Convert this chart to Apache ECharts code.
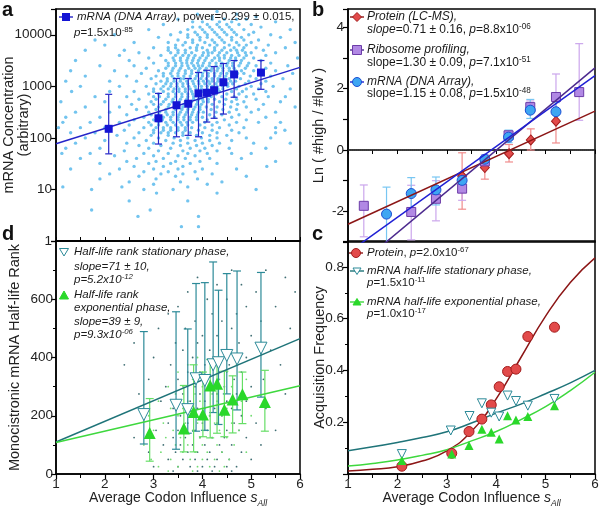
<!DOCTYPE html>
<html lang="en">
<head>
<meta charset="utf-8">
<title>Codon influence panels</title>
<script src="https://cdn.jsdelivr.net/npm/echarts@6.0.0/dist/echarts.min.js"></script>
</head>
<body style="margin:0;background:#fff">
<div id="main" style="width:600px;height:510px;"></div>
<script type="text/javascript">
var FONT = 'Liberation Sans, Arial, sans-serif';

// ---- panel a: mRNA concentration (log) vs average codon influence
var aBinX    = [2.08, 3.10, 3.47, 3.71, 3.92, 4.09, 4.24, 4.43, 4.65, 5.20];
var aBinMean = [150, 240, 430, 460, 730, 750, 840, 1200, 1700, 1850];
var aBinLow  = [49, 76, 105, 112, 105, 203, 240, 290, 615, 875];
var aBinHigh = [700, 730, 1420, 1420, 1860, 2050, 2420, 2770, 3170, 3170];
var aFitX = [1, 6];
var aFitY = [77, 2330];
// single genes, one row per concentration level: [concentration, [s_All, ...]]
var aGenes = [
  [28200, [4.3]], [25100, [3.9, 4.7]], [22400, [4.2, 5.1]], [20000, [3.5, 4.2, 4.45, 4.7, 4.9]],
  [17800, [3.8, 4.0, 4.35, 4.6, 5.5]], [15800, [3.2, 4.1, 4.3, 4.5, 4.75, 5.0]],
  [14100, [3.8, 3.95, 4.15, 4.35, 4.55, 5.2]],
  [12600, [2.9, 3.7, 4.0, 4.2, 4.4, 4.6, 4.85, 5.8]], [11200, [3.55, 3.85, 4.05, 4.25, 4.45, 4.65, 5.05]],
  [10000, [2.2, 3.35, 3.7, 3.9, 4.1, 4.3, 4.5, 4.7, 4.95, 5.4]],
  [8910, [3.1, 3.7, 3.95, 4.1, 4.35, 4.6, 4.8, 5.6]],
  [7940, [1.8, 3.5, 3.8, 3.95, 4.2, 4.4, 4.6, 4.85, 5.15]],
  [7080, [2.6, 3.3, 3.65, 3.8, 4.05, 4.25, 4.45, 4.7, 5.0, 5.9]],
  [6310, [2.0, 3.45, 3.6, 3.9, 4.15, 4.3, 4.55, 4.75, 4.9, 5.35]],
  [5620, [3.0, 3.3, 3.45, 3.75, 3.88, 4.0, 4.25, 4.45, 4.65, 4.85, 5.1, 5.7]],
  [5010, [1.6, 2.4, 3.3, 3.5, 3.65, 3.88, 4.1, 4.25, 4.4, 4.58, 4.7, 4.82, 5.25]],
  [4470, [2.7, 3.35, 3.5, 3.65, 3.78, 4.02, 4.12, 4.2, 4.35, 4.5, 4.72, 4.88, 5.0, 5.5]],
  [3980, [2.3, 3.15, 3.45, 3.6, 3.72, 3.85, 4.0, 4.12, 4.32, 4.45, 4.6, 4.75, 4.9, 5.3]],
  [3550, [2.9, 3.4, 3.55, 3.7, 3.82, 3.95, 4.08, 4.25, 4.35, 4.45, 4.58, 4.68, 4.85, 5.05, 5.95]],
  [3160, [1.4, 2.5, 3.25, 3.42, 3.55, 3.68, 3.8, 3.92, 4.05, 4.2, 4.35, 4.55, 4.68, 4.8, 5.2]],
  [2820, [3.0, 3.3, 3.45, 3.58, 3.68, 3.78, 3.9, 4.02, 4.15, 4.28, 4.4, 4.52, 4.62, 4.78, 4.95, 5.4]],
  [2510, [1.9, 2.6, 3.3, 3.45, 3.58, 3.7, 3.82, 3.92, 4.0, 4.14, 4.28, 4.38, 4.5, 4.62, 4.75, 4.92, 5.1, 5.75]],
  [2240, [2.85, 3.25, 3.4, 3.55, 3.72, 3.85, 3.95, 4.08, 4.2, 4.32, 4.42, 4.55, 4.65, 4.88, 5.3]],
  [2000, [1.3, 2.2, 3.1, 3.38, 3.52, 3.65, 3.78, 3.92, 4.05, 4.18, 4.3, 4.42, 4.55, 4.68, 4.8, 5.05, 5.5]],
  [1780, [2.75, 3.2, 3.35, 3.5, 3.65, 3.78, 3.9, 4.0, 4.12, 4.25, 4.38, 4.5, 4.6, 4.72, 4.85, 5.2, 5.85]],
  [1580, [1.6, 2.45, 3.05, 3.2, 3.38, 3.5, 3.62, 3.75, 3.88, 4.0, 4.12, 4.25, 4.36, 4.48, 4.6, 4.7, 4.98, 5.4]],
  [1410, [2.95, 3.28, 3.42, 3.55, 3.62, 3.75, 3.85, 3.97, 4.08, 4.2, 4.32, 4.45, 4.55, 4.78, 5.1, 5.65]],
  [1260, [1.2, 2.1, 2.65, 3.15, 3.28, 3.42, 3.55, 3.68, 3.8, 3.92, 4.02, 4.12, 4.2, 4.32, 4.45, 4.58, 4.68, 4.95, 5.3]],
  [1120, [3.05, 3.25, 3.36, 3.48, 3.6, 3.7, 3.82, 3.93, 4.05, 4.15, 4.28, 4.4, 4.52, 4.62, 4.88, 5.2]],
  [1000, [1.5, 2.3, 2.85, 3.2, 3.35, 3.48, 3.6, 3.72, 3.85, 3.98, 4.1, 4.2, 4.3, 4.42, 4.52, 4.75, 5.0, 5.45]],
  [891, [3.0, 3.15, 3.3, 3.42, 3.52, 3.65, 3.75, 3.87, 3.98, 4.1, 4.22, 4.32, 4.42, 4.7, 4.9, 5.15, 5.8]],
  [794, [1.32, 2.1, 2.6, 3.0, 3.2, 3.4, 3.52, 3.65, 3.78, 3.9, 4.02, 4.12, 4.25, 4.35, 4.6, 4.82, 5.3]],
  [708, [2.9, 3.1, 3.3, 3.45, 3.58, 3.7, 3.8, 3.92, 4.05, 4.15, 4.28, 4.5, 4.75, 5.05]],
  [631, [1.8, 2.45, 3.0, 3.12, 3.3, 3.45, 3.58, 3.7, 3.82, 3.95, 4.08, 4.18, 4.4, 4.65, 4.9, 5.35, 5.7]],
  [562, [2.7, 3.05, 3.25, 3.4, 3.55, 3.68, 3.82, 3.92, 4.0, 4.12, 4.25, 4.48, 4.7, 5.1]],
  [501, [1.1, 2.0, 2.95, 3.2, 3.38, 3.52, 3.65, 3.78, 3.9, 4.02, 4.12, 4.35, 4.6, 4.85, 5.6]],
  [447, [2.55, 3.0, 3.15, 3.32, 3.5, 3.62, 3.75, 3.88, 3.98, 4.2, 4.45, 4.72, 5.25]],
  [398, [1.6, 2.3, 2.85, 3.1, 3.3, 3.45, 3.6, 3.72, 3.85, 3.95, 4.08, 4.3, 4.58, 4.9, 5.9]],
  [355, [2.65, 3.05, 3.25, 3.45, 3.58, 3.7, 3.82, 3.95, 4.18, 4.42, 4.7, 5.15]],
  [316, [1.4, 2.1, 2.9, 3.12, 3.25, 3.4, 3.55, 3.68, 3.8, 3.92, 4.02, 4.28, 4.55, 5.0, 5.5]],
  [282, [2.45, 2.95, 3.1, 3.28, 3.4, 3.52, 3.65, 3.78, 3.9, 4.15, 4.4, 4.75]],
  [251, [1.2, 1.9, 2.8, 3.05, 3.2, 3.35, 3.5, 3.62, 3.75, 3.88, 4.0, 4.25, 4.6, 5.3]],
  [224, [2.6, 3.0, 3.18, 3.35, 3.5, 3.62, 3.75, 3.88, 4.1, 4.45, 4.9]],
  [200, [1.14, 1.7, 2.3, 2.9, 3.1, 3.25, 3.4, 3.55, 3.68, 3.8, 4.05, 4.3, 4.7, 5.15, 5.6]],
  [178, [2.5, 2.95, 3.1, 3.28, 3.45, 3.58, 3.7, 3.95, 4.2, 4.55]],
  [158, [1.05, 1.5, 2.0, 2.8, 3.05, 3.2, 3.35, 3.5, 3.65, 3.78, 4.05, 4.35, 4.85, 5.5]],
  [141, [2.4, 3.0, 3.2, 3.35, 3.5, 3.65, 3.92, 4.2, 4.6, 5.69]],
  [126, [1.3, 1.8, 2.7, 3.0, 3.15, 3.3, 3.45, 3.6, 3.75, 4.0, 4.3, 4.75, 5.5]],
  [112, [2.25, 2.95, 3.3, 3.6, 3.88, 4.15, 4.5]],
  [100, [1.6, 2.6, 3.1, 3.42, 3.7, 3.98, 4.3, 4.9, 5.4]],
  [89, [2.0, 2.85, 3.25, 3.55, 3.85, 4.15, 4.6]],
  [79, [1.4, 2.45, 3.0, 3.4, 3.7, 4.0, 4.35, 5.05, 5.8]],
  [71, [2.7, 3.15, 3.55, 3.88, 4.2]],
  [63, [1.2, 1.9, 2.9, 3.35, 3.75, 4.05, 4.55, 5.3]],
  [56, [2.4, 3.1, 3.6, 3.95, 4.3]],
  [50, [1.12, 1.7, 2.8, 3.3, 3.7, 4.1, 4.6, 5.0]],
  [45, [2.2, 3.0, 3.5, 3.85]],
  [40, [1.5, 2.65, 3.2, 3.65, 4.15, 4.8]],
  [35, [2.45, 3.05, 3.45, 3.95, 5.5]],
  [32, [1.9, 2.9, 3.35, 3.75, 4.3]],
  [28, [2.6, 3.2, 3.6, 5.32]],
  [25, [1.3, 2.3, 3.0, 3.5, 4.0, 4.7]],
  [22, [2.8, 3.3, 3.85]], [20, [2.1, 3.15, 3.6, 4.2]], [18, [2.7, 3.45, 4.9]],
  [16, [1.9, 3.05, 3.9]], [14, [2.5, 3.55, 4.4]], [12.6, [3.0, 4.1]],
  [11.2, [1.14, 2.35, 3.7]], [10, [1.73, 2.8, 3.4, 5.1]], [8.5, [3.06, 4.3]],
  [6, [2.5, 3.7]], [4, [1.73, 2.93]], [3, [2.68, 3.92]], [1.9, [3.57, 3.92]]
];

// ---- panel b: Ln(#high/#low) per bin
var bProtX  = [3.31, 3.77, 4.26, 4.70, 5.21];
var bProtY  = [-0.85, -0.57, -0.12, 0.33, 0.94];
var bProtLo = [-1.93, -0.95, -0.39, 0.00, 0.23];
var bProtHi = [-0.09, -0.25, 0.18, 0.69, 1.55];
var bRiboX  = [1.32, 2.28, 2.78, 3.31, 3.77, 4.25, 4.69, 5.21, 5.68];
var bRiboY  = [-1.82, -2.02, -1.59, -1.26, -0.37, 0.48, 1.40, 1.73, 1.89];
var bRiboLo = [-2.83, -2.93, -2.31, -1.64, -0.60, 0.33, 1.20, 1.27, 0.97];
var bRiboHi = [-1.14, -1.15, -1.00, -0.95, -0.15, 0.63, 1.60, 2.48, 3.47];
var bMrnaX  = [1.78, 2.28, 2.78, 3.31, 3.77, 4.25, 4.69, 5.21];
var bMrnaY  = [-2.09, -1.42, -1.30, -0.99, -0.30, 0.42, 1.30, 1.25];
var bMrnaLo = [-3.20, -1.95, -1.79, -1.10, -0.42, 0.24, 1.03, 0.95];
var bMrnaHi = [-1.21, -0.90, -0.88, -0.88, -0.18, 0.65, 1.65, 1.55];
var bFitX = [1, 6];
var bProtFit = [-2.42, 1.27];
var bRiboFit = [-4.04, 2.68];
var bMrnaFit = [-3.35, 2.43];
var bZeroY = [0, 0];

// ---- panel c: acquisition frequency
var cProtX = [2.09, 3.10, 3.45, 3.71, 3.90, 4.06, 4.23, 4.40, 4.64, 5.18];
var cProt  = [0.030, 0.080, 0.164, 0.212, 0.267, 0.337, 0.396, 0.405, 0.531, 0.567];
var cStatX = [2.09, 3.08, 3.46, 3.71, 3.90, 4.06, 4.23, 4.40, 4.64, 5.18];
var cStat  = [0.077, 0.168, 0.224, 0.273, 0.237, 0.222, 0.303, 0.282, 0.264, 0.290];
var cExp   = [0.052, 0.077, 0.110, 0.173, 0.161, 0.135, 0.225, 0.209, 0.222, 0.264];
var cCurveX    = [1, 1.5, 2, 2.5, 3, 3.5, 4, 4.5, 5, 5.5, 6];
var cProtCurve = [0.012, 0.018, 0.028, 0.050, 0.089, 0.165, 0.29, 0.45, 0.61, 0.74, 0.835];
var cStatCurve = [0.090, 0.105, 0.122, 0.141, 0.163, 0.197, 0.235, 0.270, 0.310, 0.352, 0.400];
var cExpCurve  = [0.031, 0.041, 0.054, 0.072, 0.094, 0.128, 0.164, 0.210, 0.260, 0.322, 0.393];

// ---- panel d: monocistronic mRNA half-life rank
var dStatX  = [2.80, 3.46, 3.70, 3.87, 4.05, 4.22, 4.33, 4.50, 4.71, 5.20];
var dStatY  = [204, 236, 221, 327, 321, 375, 382, 407, 395, 432];
var dStatLo = [103, 85, 140, 147, 150, 211, 170, 275, 220, 264];
var dStatHi = [489, 557, 498, 654, 657, 728, 631, 688, 697, 692];
var dExpX   = [2.92, 3.62, 3.82, 4.01, 4.16, 4.30, 4.45, 4.62, 4.82, 5.28];
var dExpY   = [141, 156, 213, 204, 304, 310, 221, 256, 274, 247];
var dExpLo  = [44, 76, 76, 128, 124, 140, 128, 141, 173, 147];
var dExpHi  = [259, 304, 375, 350, 393, 390, 353, 337, 350, 356];
var dFitX = [1, 6];
var dStatFit = [110, 465];
var dExpFit = [108, 303];
// single genes: [rank, [s_All, ...]]
var dStatGenes = [
  [700, [4.6, 5.3]], [675, [3.9, 5.7]], [650, [4.3, 4.8]], [625, [3.7, 5.1, 5.9]],
  [600, [4.1, 4.5]], [575, [3.5, 4.9, 5.5]], [550, [3.3, 4.2, 4.7]], [525, [3.85, 4.4, 5.2]],
  [500, [3.1, 3.65, 4.6, 5.8]], [475, [4.0, 4.3, 5.0]], [450, [2.6, 3.45, 3.9, 4.75]],
  [425, [3.6, 4.15, 4.45, 5.4]], [400, [3.0, 3.8, 4.25, 4.9]], [375, [2.4, 3.35, 4.05, 4.55, 5.6]],
  [350, [3.7, 3.95, 4.35, 4.8]], [325, [2.9, 3.5, 4.1, 4.65, 5.25]], [300, [3.25, 3.85, 4.2, 4.45, 5.0]],
  [275, [2.7, 3.6, 3.95, 4.3, 4.7, 5.7]], [250, [3.15, 3.75, 4.05, 4.5, 4.9]],
  [225, [3.4, 3.9, 4.25, 4.6, 5.3]], [200, [2.8, 3.55, 3.8, 4.15, 4.4, 4.8]],
  [175, [3.3, 3.7, 4.0, 4.3, 4.65, 5.1]], [150, [3.05, 3.5, 3.85, 4.1, 4.5, 4.75, 5.5]],
  [125, [2.6, 3.4, 3.65, 3.95, 4.2, 4.45, 4.9]], [100, [3.2, 3.55, 3.8, 4.05, 4.35, 4.6, 5.2]],
  [75, [2.9, 3.45, 3.7, 3.9, 4.15, 4.4, 4.8]], [50, [3.3, 3.6, 3.85, 4.1, 4.3, 4.55, 5.0]],
  [25, [3.0, 3.5, 3.75, 4.0, 4.25, 4.5, 4.7]], [10, [3.4, 3.9, 4.2, 4.6]]
];
var dExpGenes = [
  [400, [3.9, 4.4]], [375, [3.7, 4.2, 4.7]], [350, [3.5, 4.0, 4.5]], [325, [3.8, 4.1, 4.35, 4.9]],
  [300, [3.3, 3.6, 4.0, 4.6]], [275, [3.45, 3.85, 4.2, 4.45]], [250, [3.1, 3.7, 3.95, 4.3, 4.8]],
  [225, [3.35, 3.6, 4.05, 4.5]], [200, [2.9, 3.5, 3.75, 4.15, 4.4, 5.0]],
  [175, [3.2, 3.65, 3.9, 4.25, 4.6]], [150, [3.0, 3.4, 3.8, 4.05, 4.35, 4.75]],
  [125, [3.25, 3.55, 3.95, 4.2, 4.5]], [100, [2.8, 3.45, 3.7, 4.0, 4.3, 4.65]],
  [75, [3.15, 3.6, 3.85, 4.1, 4.4, 4.9]], [50, [2.95, 3.35, 3.75, 4.0, 4.25, 4.55]],
  [25, [3.1, 3.5, 3.9, 4.15, 4.45]], [10, [3.3, 3.8, 4.35]]
];

// colours
var A_CLOUD = '#72c4ef', A_PT = '#1414d4', A_LINE = '#2424c8';
var B_PROT = '#e24a4a', B_PROT_E = '#a31c1c', B_PROT_BAR = '#f08c8c', B_PROT_LINE = '#8c1616';
var B_RIBO = '#b188e4', B_RIBO_E = '#6c3ca8', B_RIBO_BAR = '#cba6ec', B_RIBO_LINE = '#4c2a8e';
var B_MRNA = '#3ea6f2', B_MRNA_E = '#1c4ed4', B_MRNA_BAR = '#78c6f2', B_MRNA_LINE = '#2020d4';
var TEAL = '#2c8a98', TEAL_LINE = '#1f7479', GREEN = '#2ad82a', GREEN_BAR = '#66de66', GREEN_LINE = '#3ed83e';

function pts(xs, ys) { return xs.map(function (x, i) { return [x, ys[i]]; }); }
function bars(xs, lo, hi) { return xs.map(function (x, i) { return [x, lo[i], hi[i]]; }); }
function rows(list) {
  var out = [];
  list.forEach(function (r) { r[1].forEach(function (x) { out.push([x, r[0]]); }); });
  return out;
}

function errSeries(ax, data, color, cap, z) {
  return {
    type: 'custom', xAxisIndex: ax, yAxisIndex: ax, data: data, z: z, clip: true, silent: true,
    encode: { x: 0, y: [1, 2] },
    renderItem: function (params, api) {
      var x = api.value(0);
      var lo = api.coord([x, api.value(1)]);
      var hi = api.coord([x, api.value(2)]);
      var h = cap / 2;
      var st = { stroke: color, lineWidth: 1.2 };
      return { type: 'group', children: [
        { type: 'line', shape: { x1: lo[0], y1: lo[1], x2: hi[0], y2: hi[1] }, style: st },
        { type: 'line', shape: { x1: lo[0] - h, y1: lo[1], x2: lo[0] + h, y2: lo[1] }, style: st },
        { type: 'line', shape: { x1: hi[0] - h, y1: hi[1], x2: hi[0] + h, y2: hi[1] }, style: st }
      ] };
    }
  };
}
function lineSeries(ax, data, color, width, z, extra) {
  var s = { type: 'line', xAxisIndex: ax, yAxisIndex: ax, data: data, showSymbol: false, silent: true,
    z: z, lineStyle: { color: color, width: width } };
  return Object.assign(s, extra || {});
}
function dotSeries(ax, data, symbol, size, fill, border, z, extra) {
  var s = { type: 'scatter', xAxisIndex: ax, yAxisIndex: ax, data: data, symbol: symbol, symbolSize: size,
    z: z, silent: true, itemStyle: { color: fill, borderColor: border, borderWidth: border ? 1 : 0, opacity: 1 } };
  return Object.assign(s, extra || {});
}

var LABEL = { fontSize: 13.5, color: '#222', fontFamily: FONT };
var AXLINE = { show: true, lineStyle: { color: '#000', width: 1.5 } };
var TICK = { show: true, length: 5, lineStyle: { color: '#000', width: 1.2 } };
var NAME_Y = { fontSize: 14.5, color: '#222', fontFamily: FONT, lineHeight: 15 };
var NAME_X = {
  fontSize: 14, color: '#222', fontFamily: FONT, lineHeight: 20,
  rich: {
    s: { fontSize: 14, fontStyle: 'italic', color: '#222', fontFamily: FONT, lineHeight: 20 },
    sub: { fontSize: 8.5, fontStyle: 'italic', color: '#222', fontFamily: FONT, lineHeight: 9, verticalAlign: 'bottom' }
  }
};
var XNAME = 'Average Codon Influence {s|s}{sub|All}';

function gridBox(l, t, w, h) {
  return { left: l, top: t, width: w, height: h, show: true, borderColor: '#000', borderWidth: 1.5,
    backgroundColor: 'transparent', containLabel: false, outerBoundsMode: 'none' };
}

// legend-style notes drawn as graphic text
function note(x, y, text, size, italic) {
  var fs = italic ? 'italic' : 'normal';
  return { type: 'text', x: x, y: y, z: 50, silent: true, style: {
    text: text, fontSize: size, fontFamily: FONT, fontStyle: fs, fill: '#1a1a1a',
    verticalAlign: 'middle', lineHeight: 14,
    rich: {
      i: { fontSize: size, fontFamily: FONT, fontStyle: 'italic', lineHeight: 14 },
      s: { fontSize: size * 0.68, fontFamily: FONT, fontStyle: fs, lineHeight: size * 0.68, verticalAlign: 'top' }
    }
  } };
}
function letter(x, y, t) {
  return { type: 'text', x: x, y: y, z: 50, silent: true,
    style: { text: t, fontSize: 20, fontWeight: 'bold', fontFamily: FONT, fill: '#111', verticalAlign: 'middle' } };
}
function keyLine(x, y, color) {
  return { type: 'line', z: 50, silent: true, shape: { x1: x - 7, y1: y, x2: x + 7, y2: y }, style: { stroke: color, lineWidth: 1.4 } };
}
function keyPoly(points, fill, stroke) {
  return { type: 'polygon', z: 51, silent: true, shape: { points: points }, style: { fill: fill, stroke: stroke, lineWidth: 1 } };
}

var graphic = [
  letter(2, 10, 'a'), letter(312, 10, 'b'), letter(2, 234, 'd'), letter(312, 234, 'c'),
  // a
  keyLine(66, 17, A_LINE),
  { type: 'rect', z: 51, silent: true, shape: { x: 62, y: 13, width: 8, height: 8 }, style: { fill: A_PT } },
  note(77, 17, '{i|mRNA (DNA Array)}, power=0.299 ± 0.015,', 11.5),
  note(74, 33, '{i|p}=1.5x10{s|-85}', 11.5),
  // b
  keyLine(357, 17, B_PROT_LINE),
  keyPoly([[357, 12.5], [361.5, 17], [357, 21.5], [352.5, 17]], B_PROT, B_PROT_E),
  note(367, 17, '{i|Protein (LC-MS),}', 12),
  note(367, 30, '{i|slope}=0.71 ± 0.16, {i|p}=8.8x10{s|-06}', 12),
  keyLine(357, 50, B_RIBO_LINE),
  { type: 'rect', z: 51, silent: true, shape: { x: 352.5, y: 45.5, width: 9, height: 9 }, style: { fill: B_RIBO, stroke: B_RIBO_E, lineWidth: 1 } },
  note(367, 50, '{i|Ribosome profiling,}', 12),
  note(367, 63, 'slope=1.30 ± 0.09, {i|p}=7.1x10{s|-51}', 12),
  keyLine(357, 82, B_MRNA_LINE),
  { type: 'circle', z: 51, silent: true, shape: { cx: 357, cy: 82, r: 4.5 }, style: { fill: B_MRNA, stroke: B_MRNA_E, lineWidth: 1 } },
  note(367, 82, '{i|mRNA (DNA Array),}', 12),
  note(367, 94, 'slope=1.15 ± 0.08, {i|p}=1.5x10{s|-48}', 12),
  // c
  keyLine(356, 253, B_PROT_LINE),
  { type: 'circle', z: 51, silent: true, shape: { cx: 356, cy: 253, r: 4.5 }, style: { fill: B_PROT, stroke: B_PROT_E, lineWidth: 1 } },
  note(367, 253, '{i|Protein}, {i|p}=2.0x10{s|-67}', 11.5),
  keyLine(357, 271, TEAL_LINE),
  keyPoly([[353, 268], [361, 268], [357, 274.5]], '#fff', TEAL),
  note(367, 271, '{i|mRNA half-life stationary phase,}', 11.5),
  note(367, 283, '{i|p}=1.5x10{s|-11}', 11.5),
  keyLine(357, 302, GREEN_LINE),
  keyPoly([[353, 305], [361, 305], [357, 298.5]], GREEN, GREEN),
  note(367, 302, '{i|mRNA half-life exponential phase,}', 11.5),
  note(367, 314, '{i|p}=1.0x10{s|-17}', 11.5),
  // d
  keyPoly([[59.5, 248.5], [68.5, 248.5], [64, 256]], '#fff', TEAL),
  note(74, 252, 'Half-life rank stationary phase,', 11.5, true),
  note(74, 267, 'slope=71 ± 10,', 11.5, true),
  note(74, 280, 'p=5.2x10{s|-12}', 11.5, true),
  keyPoly([[59.5, 299], [68.5, 299], [64, 291]], GREEN, GREEN),
  note(74, 295, 'Half-life rank', 11.5, true),
  note(74, 308, 'exponential phase,', 11.5, true),
  note(74, 322, 'slope=39 ± 9,', 11.5, true),
  note(74, 335, 'p=9.3x10{s|-06}', 11.5, true)
];

var option = {
  animation: false,
  backgroundColor: '#fff',
  textStyle: { fontFamily: FONT },
  grid: [gridBox(56, 9, 244, 232), gridBox(348, 9, 247, 233), gridBox(348, 241, 247, 233), gridBox(56, 241, 244, 233)],
  xAxis: [
    { gridIndex: 0, type: 'value', min: 1, max: 6, interval: 0.5, axisLine: AXLINE,
      axisTick: { show: true, inside: true, length: 4, lineStyle: { color: '#000' } }, axisLabel: { show: false }, splitLine: { show: false } },
    { gridIndex: 1, type: 'value', min: 1, max: 6, interval: 0.5, axisLine: AXLINE,
      axisTick: { show: true, length: 4, lineStyle: { color: '#000' } }, axisLabel: { show: false }, splitLine: { show: false } },
    { gridIndex: 2, type: 'value', min: 1, max: 6, interval: 1, axisLine: AXLINE, axisTick: TICK,
      minorTick: { show: true, splitNumber: 2, length: 4, lineStyle: { color: '#000' } },
      axisLabel: Object.assign({ margin: 3 }, LABEL), splitLine: { show: false },
      name: XNAME, nameLocation: 'middle', nameGap: 14, nameMoveOverlap: false, nameTextStyle: NAME_X },
    { gridIndex: 3, type: 'value', min: 1, max: 6, interval: 1, axisLine: AXLINE, axisTick: TICK,
      minorTick: { show: true, splitNumber: 2, length: 4, lineStyle: { color: '#000' } },
      axisLabel: Object.assign({ margin: 3 }, LABEL), splitLine: { show: false },
      name: XNAME, nameLocation: 'middle', nameGap: 14, nameMoveOverlap: false, nameTextStyle: NAME_X }
  ],
  yAxis: [
    { gridIndex: 0, type: 'log', logBase: 10, min: 1, max: 31623, axisLine: AXLINE, axisTick: TICK, splitLine: { show: false },
      axisLabel: Object.assign({ margin: 4, formatter: function (v) {
        var l = Math.log(v) / Math.LN10;
        return Math.abs(l - Math.round(l)) < 1e-6 ? String(Math.round(v)) : '';
      } }, LABEL),
      name: 'mRNA Concentration\n(arbitrary)', nameLocation: 'middle', nameGap: 25, nameMoveOverlap: false, nameTextStyle: NAME_Y },
    { gridIndex: 1, type: 'value', min: -3, max: 4.6, interval: 1, axisLine: AXLINE, axisTick: TICK, splitLine: { show: false },
      axisLabel: Object.assign({ margin: 4, formatter: function (v) {
        return Math.abs(v % 2) < 1e-9 ? String(v) : '';
      } }, LABEL),
      name: 'Ln ( #high / #low )', nameLocation: 'middle', nameGap: 22, nameMoveOverlap: false, nameTextStyle: NAME_Y },
    { gridIndex: 2, type: 'value', min: 0, max: 0.9, interval: 0.2, axisLine: AXLINE, axisTick: TICK, splitLine: { show: false },
      minorTick: { show: true, splitNumber: 2, length: 3, lineStyle: { color: '#000' } },
      axisLabel: Object.assign({ margin: 4, formatter: function (v) {
        return (v < 0.05 || v > 0.85) ? '' : v.toFixed(1);
      } }, LABEL),
      name: 'Acquisition Frequency', nameLocation: 'middle', nameGap: 21, nameMoveOverlap: false, nameTextStyle: NAME_Y },
    { gridIndex: 3, type: 'value', min: 0, max: 800, interval: 200, axisLine: AXLINE, axisTick: TICK, splitLine: { show: false },
      minorTick: { show: true, splitNumber: 2, length: 3, lineStyle: { color: '#000' } },
      axisLabel: Object.assign({ margin: 3, formatter: function (v) { return v >= 800 ? '' : String(v); } }, LABEL),
      name: 'Monocistronic mRNA Half-life Rank', nameLocation: 'middle', nameGap: 34, nameMoveOverlap: false, nameTextStyle: NAME_Y }
  ],
  series: [
    // a
    dotSeries(0, rows(aGenes), 'circle', 3.4, A_CLOUD, null, 1),
    lineSeries(0, pts(aFitX, aFitY), A_LINE, 1.5, 2),
    errSeries(0, bars(aBinX, aBinLow, aBinHigh), A_LINE, 7, 3),
    dotSeries(0, pts(aBinX, aBinMean), 'rect', 8, A_PT, null, 4),
    // b
    lineSeries(1, pts(bFitX, bZeroY), '#333', 1, 1, { lineStyle: { color: '#333', width: 1, type: 'dotted' } }),
    errSeries(1, bars(bProtX, bProtLo, bProtHi), B_PROT_BAR, 8, 2),
    errSeries(1, bars(bRiboX, bRiboLo, bRiboHi), B_RIBO_BAR, 8, 2),
    errSeries(1, bars(bMrnaX, bMrnaLo, bMrnaHi), B_MRNA_BAR, 8, 2),
    dotSeries(1, pts(bProtX, bProtY), 'diamond', [9, 10], B_PROT, B_PROT_E, 3),
    dotSeries(1, pts(bRiboX, bRiboY), 'rect', 9, B_RIBO, B_RIBO_E, 3),
    dotSeries(1, pts(bMrnaX, bMrnaY), 'circle', 10, B_MRNA, B_MRNA_E, 3),
    lineSeries(1, pts(bFitX, bProtFit), B_PROT_LINE, 1.5, 4),
    lineSeries(1, pts(bFitX, bRiboFit), B_RIBO_LINE, 1.5, 4),
    lineSeries(1, pts(bFitX, bMrnaFit), B_MRNA_LINE, 1.5, 4),
    // c
    lineSeries(2, pts(cCurveX, cProtCurve), B_PROT_LINE, 1.5, 2, { smooth: true }),
    lineSeries(2, pts(cCurveX, cStatCurve), TEAL_LINE, 1.5, 2, { smooth: true }),
    lineSeries(2, pts(cCurveX, cExpCurve), GREEN_LINE, 1.5, 2, { smooth: true }),
    dotSeries(2, pts(cProtX, cProt), 'circle', 10, B_PROT, B_PROT_E, 3),
    dotSeries(2, pts(cStatX, cStat), 'triangle', 9, '#fff', TEAL, 4, { symbolRotate: 180 }),
    dotSeries(2, pts(cProtX, cExp), 'triangle', 9, GREEN, null, 5),
    // d
    dotSeries(3, rows(dStatGenes), 'circle', 1.8, '#3f6e73', null, 1),
    dotSeries(3, rows(dExpGenes), 'circle', 1.8, '#72dc72', null, 1),
    errSeries(3, bars(dStatX, dStatLo, dStatHi), TEAL, 8, 2),
    errSeries(3, bars(dExpX, dExpLo, dExpHi), GREEN_BAR, 8, 2),
    lineSeries(3, pts(dFitX, dStatFit), TEAL_LINE, 1.5, 3),
    lineSeries(3, pts(dFitX, dExpFit), GREEN_LINE, 1.5, 3),
    dotSeries(3, pts(dStatX, dStatY), 'triangle', 12, '#fff', TEAL, 4, { symbolRotate: 180 }),
    dotSeries(3, pts(dExpX, dExpY), 'triangle', 12, GREEN, null, 5)
  ],
  graphic: graphic
};

var myChart = echarts.init(document.getElementById('main'));
myChart.setOption(option);
</script>
</body>
</html>
